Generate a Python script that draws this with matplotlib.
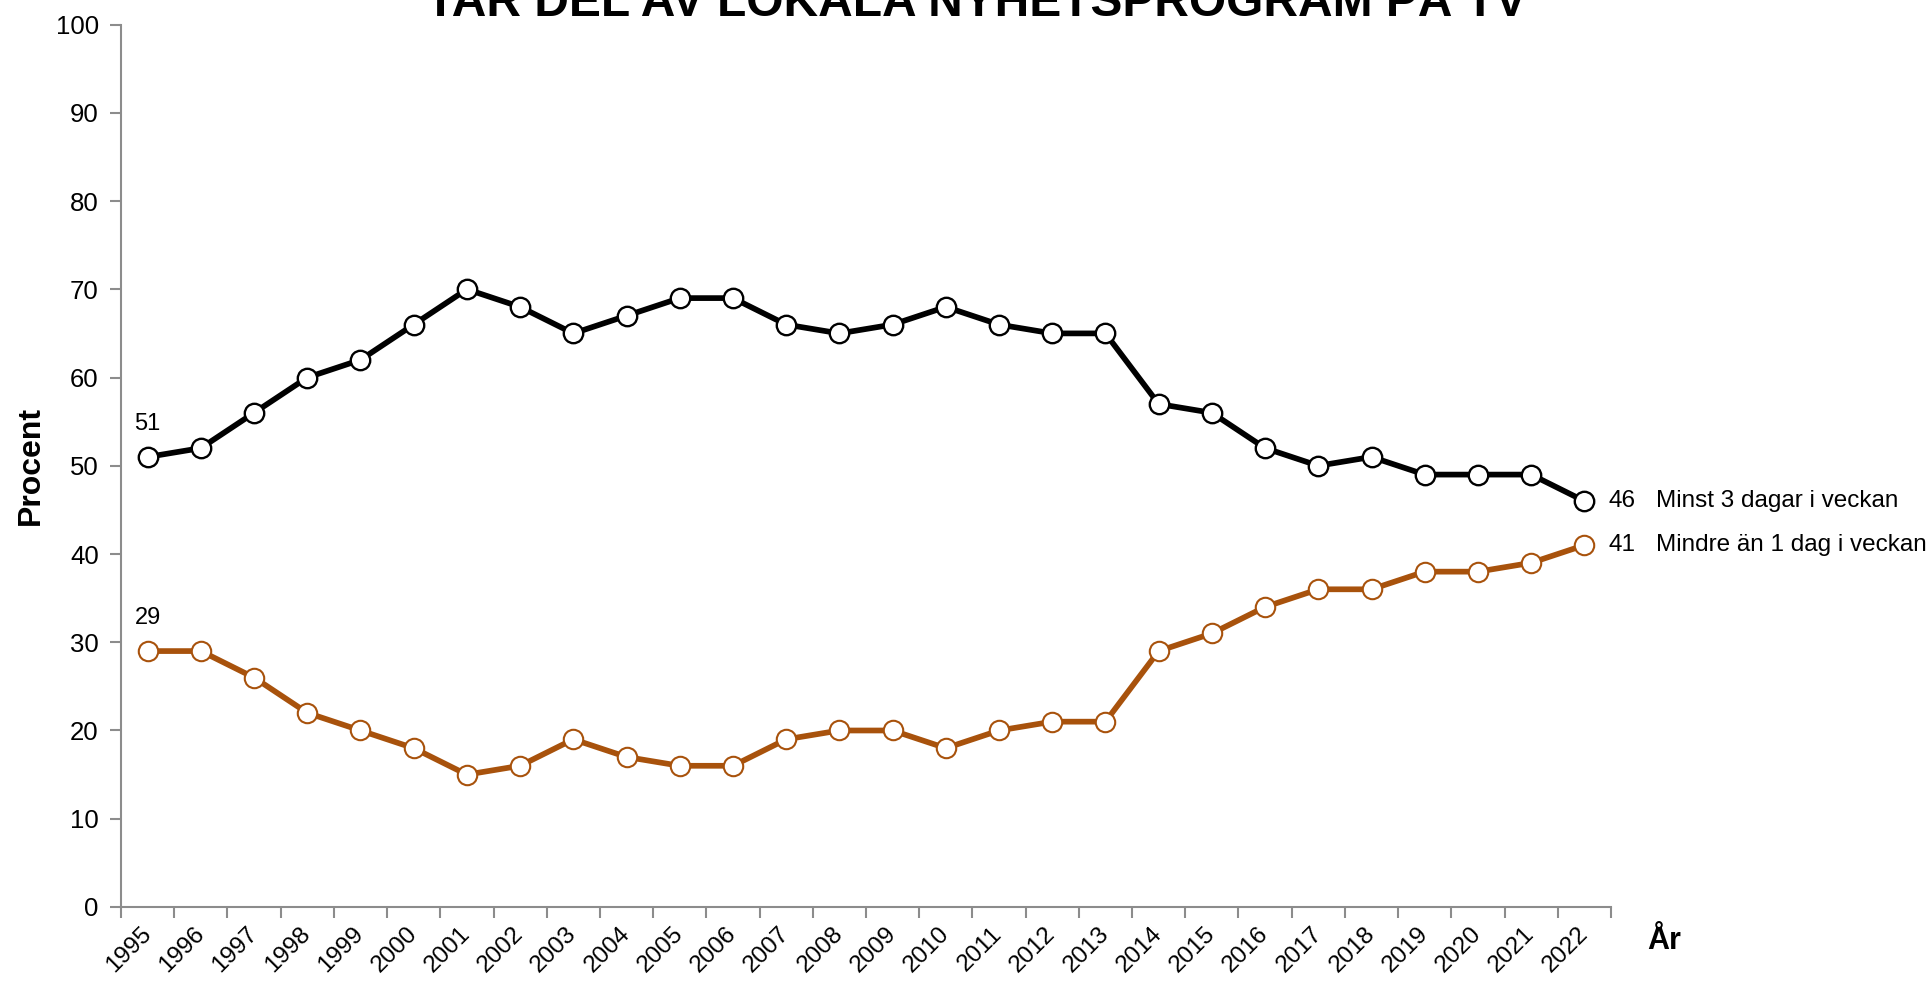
import matplotlib.pyplot as plt
import matplotlib.transforms as mtransforms
import numpy as np

years = [str(y) for y in range(1995, 2023)]
minst3 = [51, 52, 56, 60, 62, 66, 70, 68, 65, 67, 69, 69, 66, 65, 66, 68, 66, 65, 65,
          57, 56, 52, 50, 51, 49, 49, 49, 46]
mindre1 = [29, 29, 26, 22, 20, 18, 15, 16, 19, 17, 16, 16, 19, 20, 20, 18, 20, 21, 21,
           29, 31, 34, 36, 36, 38, 38, 39, 41]
seriesNames = ['Minst 3 dagar i veckan', 'Mindre än 1 dag i veckan']
titleText = 'TAR DEL AV LOKALA NYHETSPROGRAM PÅ TV'

plt.rcParams['font.family'] = ['Liberation Sans', 'DejaVu Sans']
orange = '#A8520C'
gray = '#8C8C8C'

fig = plt.figure(figsize=(19.3, 9.82), dpi=100)
ax = fig.add_axes([0.0627, 0.0764, 0.7720, 0.8986])

x = np.arange(len(years))
ax.plot(x, minst3, color='black', lw=4.1, marker='o', ms=14, mfc='white',
        mec='black', mew=1.7, zorder=3, clip_on=False)
ax.plot(x, mindre1, color=orange, lw=4.1, marker='o', ms=14, mfc='white',
        mec=orange, mew=1.5, zorder=3, clip_on=False)

ax.set_xlim(-0.5, len(years) - 0.5)
ax.set_ylim(0, 100)
ax.set_yticks(range(0, 101, 10))
ax.set_xticks(np.arange(-0.5, len(years), 1.0))
ax.set_xticklabels([])
ax.set_xticks(x, minor=True)
ax.set_xticklabels(years, minor=True, rotation=45, ha='right', va='center',
                   rotation_mode='anchor', fontsize=17.5)
shift = mtransforms.ScaledTranslation(0.11, 0, fig.dpi_scale_trans)
for lbl in ax.get_xticklabels(minor=True):
    lbl.set_transform(lbl.get_transform() + shift)
ax.tick_params(axis='x', which='minor', length=0, pad=17)
ax.tick_params(axis='x', which='major', length=8, width=1.5, color=gray)
ax.tick_params(axis='y', length=8, width=1.5, color=gray, labelsize=18.5, pad=8)

for side in ['top', 'right']:
    ax.spines[side].set_visible(False)
for side in ['left', 'bottom']:
    ax.spines[side].set_color(gray)
    ax.spines[side].set_linewidth(1.5)

# start values
for vals in [minst3, mindre1]:
    ax.annotate(str(vals[0]), (0, vals[0]), xytext=(0, 22), textcoords='offset pixels',
                ha='center', va='bottom', fontsize=17)

# end labels
last = len(years) - 1
for vals, name in [(minst3, seriesNames[0]), (mindre1, seriesNames[1])]:
    ax.annotate(str(vals[-1]), (last, vals[-1]), xytext=(24, 0), textcoords='offset pixels',
                ha='left', va='center', fontsize=17.5, annotation_clip=False)
    ax.annotate(name, (last, vals[-1]), xytext=(72, 0), textcoords='offset pixels',
                ha='left', va='center', fontsize=17.5, annotation_clip=False)

ax.set_ylabel('Procent', fontsize=23, fontweight='bold')
ax.yaxis.set_label_coords(-0.0503, 0.5)
fig.text(0.8625, 0.042, 'År', fontsize=22, fontweight='bold', ha='center', va='center')

fig.text(0.506, 0.9835, titleText, fontsize=34.5, fontweight='bold', ha='center',
         va='baseline', family=['Liberation Sans Narrow', 'Liberation Sans', 'DejaVu Sans'])

fig.savefig('out.png', dpi=100)
